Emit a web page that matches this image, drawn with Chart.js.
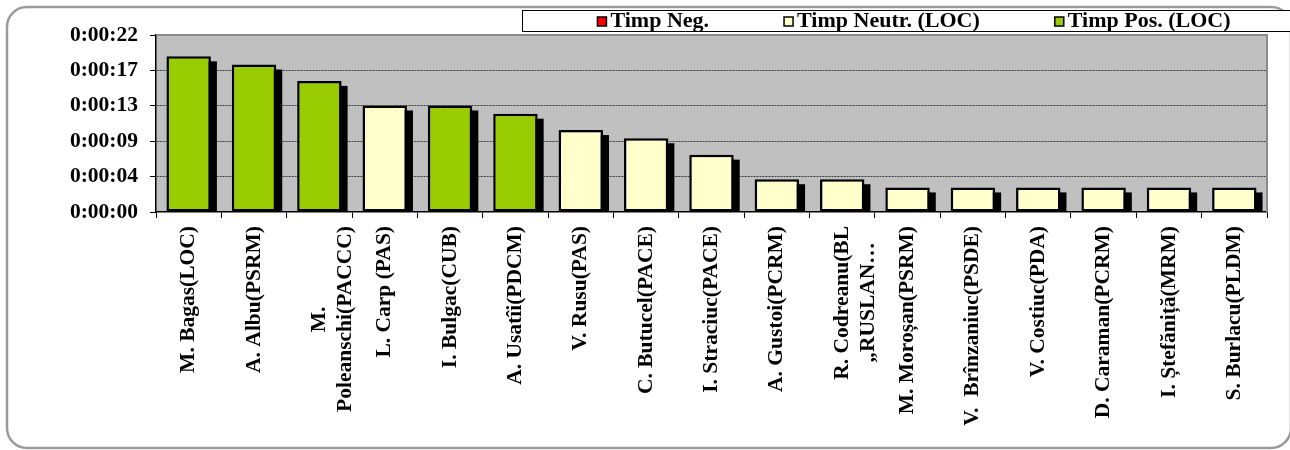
<!DOCTYPE html>
<html>
<head>
<meta charset="utf-8">
<script src="https://cdn.jsdelivr.net/npm/chart.js@4.4.1/dist/chart.umd.min.js"></script>
<style>
  html, body { margin: 0; padding: 0; background: #fff; }
</style>
</head>
<body>
<canvas id="chart" width="1290" height="450"></canvas>
<script>
// categories (speakers) and time values in seconds
const categories = [
  "M. Bagas(LOC)", "A. Albu(PSRM)", ["M.", "Poleanschi(PACCC)"], "L. Carp (PAS)",
  "I. Bulgac(CUB)", "A. Usatîi(PDCM)", "V. Rusu(PAS)", "C. Butucel(PACE)",
  "I. Straciuc(PACE)", "A. Gustoi(PCRM)", ["R. Codreanu(BL", "„RUSLAN…"],
  "M. Moroșan(PSRM)", "V.  Brînzaniuc(PSDE)", "V. Costiuc(PDA)", "D. Caraman(PCRM)",
  "I. Ștefăniță(MRM)", "S. Burlacu(PLDM)"
];
const timpNeg = [null, null, null, null, null, null, null, null, null, null, null, null, null, null, null, null, null];
const timpNeutr = [null, null, null, 13, null, null, 10, 9, 7, 4, 4, 3, 3, 3, 3, 3, 3];
const timpPos = [19, 18, 16, null, 13, 12, null, null, null, null, null, null, null, null, null, null, null];

const yTickValues = [0, 4.32, 8.64, 12.96, 17.28, 21.6];
const yTickLabels = ["0:00:00", "0:00:04", "0:00:09", "0:00:13", "0:00:17", "0:00:22"];

const FONT_FAMILY = "'Liberation Serif', 'Times New Roman', serif";
const font = { family: FONT_FAMILY, size: 21.5, weight: 'bold' };

// centre multi-line labels: right-aligned rotated text, so pad shorter lines at the end
const measureCtx = document.createElement('canvas').getContext('2d');
measureCtx.font = "bold 21.5px " + FONT_FAMILY;
function padLines(label) {
  if (!Array.isArray(label)) return label;
  const widths = label.map(l => measureCtx.measureText(l).width);
  const maxW = Math.max(...widths);
  const sp = measureCtx.measureText("\u00A0").width;
  return label.map((l, i) => l + "\u00A0".repeat(Math.round((maxW - widths[i]) / 2 / sp)));
}
const tickLabels = categories.map(padLines);

const framePlugin = {
  id: 'frame',
  beforeDraw(chart) {
    const { ctx, chartArea: a, width, height } = chart;
    ctx.save();
    ctx.fillStyle = '#fff';
    ctx.fillRect(0, 0, width, height);
    // rounded outer frame
    ctx.strokeStyle = '#9a9a9a';
    ctx.lineWidth = 2.5;
    ctx.beginPath();
    ctx.roundRect(7, 7, width - 6, height - 9, 20);
    ctx.stroke();
    // plot area
    ctx.fillStyle = '#c0c0c0';
    ctx.fillRect(a.left, a.top, a.right - a.left, a.bottom - a.top);
    ctx.restore();
  },
  beforeDatasetsDraw(chart) {
    const { ctx, chartArea: a } = chart;
    ctx.save();
    ctx.beginPath();
    ctx.rect(a.left, a.top, a.right - a.left, a.bottom - a.top);
    ctx.clip();
    ctx.fillStyle = '#000';
    chart.data.datasets.forEach((ds, di) => {
      chart.getDatasetMeta(di).data.forEach((bar, i) => {
        if (ds.data[i] == null) return;
        const p = bar.getProps(['x', 'y', 'base', 'width'], true);
        ctx.fillRect(p.x - p.width / 2 + 6, p.y + 5, p.width, p.base - p.y);
      });
    });
    ctx.restore();
  },
  afterDraw(chart) {
    const { ctx, chartArea: a, width } = chart;
    ctx.save();
    // plot border top/right
    ctx.strokeStyle = '#8a8a8a';
    ctx.lineWidth = 2;
    ctx.beginPath();
    ctx.moveTo(a.left, a.top);
    ctx.lineTo(a.right, a.top);
    ctx.lineTo(a.right, a.bottom);
    ctx.stroke();

    // legend box
    const bx = 522, by = 10, bh = 21;
    ctx.fillStyle = '#fff';
    ctx.fillRect(bx, by, width - bx + 20, bh);
    ctx.strokeStyle = '#000';
    ctx.lineWidth = 1;
    ctx.strokeRect(bx + 0.5, by + 0.5, width - bx + 20, bh);

    ctx.font = "bold 22px " + FONT_FAMILY;
    ctx.textBaseline = 'middle';
    const gap = 75, box = 9, boxGap = 4;
    const items = chart.data.datasets.map(ds => ({
      label: ds.label, color: ds.backgroundColor,
      w: box + boxGap + ctx.measureText(ds.label).width
    }));
    const total = items.reduce((s, it) => s + it.w, 0) + gap * (items.length - 1);
    let x = 914 - total / 2;
    const cy = by + bh / 2 + 1;
    items.forEach(it => {
      ctx.fillStyle = it.color;
      ctx.fillRect(x, cy - box / 2, box, box);
      ctx.lineWidth = 1.5;
      ctx.strokeStyle = '#000';
      ctx.strokeRect(x, cy - box / 2, box, box);
      ctx.fillStyle = '#000';
      ctx.fillText(it.label, x + box + boxGap, cy);
      x += it.w + gap;
    });
    ctx.restore();
  }
};

new Chart(document.getElementById('chart'), {
  type: 'bar',
  data: {
    labels: categories,
    datasets: [
      { label: 'Timp Neg.', data: timpNeg, backgroundColor: '#ff0000' },
      { label: 'Timp Neutr. (LOC)', data: timpNeutr, backgroundColor: '#ffffcc' },
      { label: 'Timp Pos. (LOC)', data: timpPos, backgroundColor: '#99cc00' }
    ].map(ds => Object.assign(ds, {
      borderColor: '#000', borderWidth: 2.5, borderSkipped: false,
      barPercentage: 0.68, categoryPercentage: 1
    }))
  },
  options: {
    responsive: false,
    animation: false,
    layout: { padding: { left: 0, top: 35, right: 23, bottom: 0 } },
    plugins: { legend: { display: false }, tooltip: { enabled: false } },
    scales: {
      x: {
        stacked: true,
        afterFit: s => { s.height = 238; },
        ticks: {
          autoSkip: false, minRotation: 90, maxRotation: 90, padding: 8,
          color: '#000', font: font,
          callback: (v, i) => tickLabels[i]
        },
        grid: { drawOnChartArea: false, offset: true, tickLength: 6, tickColor: '#000' },
        border: { color: '#000', width: 1.5 }
      },
      y: {
        stacked: true,
        min: 0, max: 21.6,
        afterBuildTicks: s => { s.ticks = yTickValues.map(v => ({ value: v })); },
        afterFit: s => { s.width = 156; },
        ticks: { color: '#000', font: font, padding: 12, callback: (v, i) => yTickLabels[i] },
        grid: {
          color: c => (c.index === 0 || c.index === yTickValues.length - 1) ? 'rgba(0,0,0,0)' : '#3c3c3c',
          tickColor: '#000', tickLength: 6, lineWidth: 1
        },
        border: { color: '#000', width: 1.5, dash: [2, 1] }
      }
    }
  },
  plugins: [framePlugin]
});
</script>
</body>
</html>
